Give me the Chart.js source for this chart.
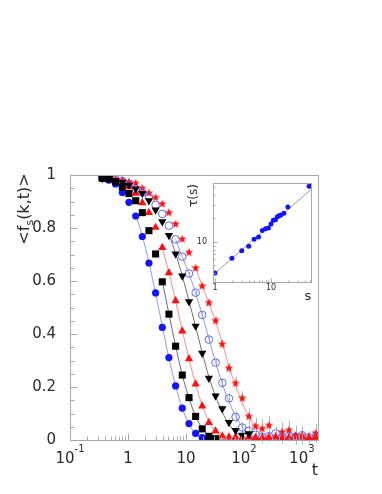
<!DOCTYPE html>
<html>
<head>
<meta charset="utf-8">
<script src="https://cdn.jsdelivr.net/npm/chart.js"></script>
<style>
  body { margin: 0; background: #fff; }
  #wrap { position: relative; width: 382px; height: 494px; }
  #wrap canvas { position: absolute; left: 0; top: 0; }
</style>
</head>
<body>
<div id="wrap">
  <canvas id="mainChart" width="382" height="494"></canvas>
  <canvas id="insetChart" width="382" height="494"></canvas>
</div>
<script>
// time grid (log spaced) shared by all series
const times = [0.36, 0.47, 0.61, 0.8, 1.04, 1.36, 1.77, 2.3, 3.0, 3.91, 5.09, 6.64, 8.65, 11.3, 14.7, 19.1, 24.9,
  32.5, 42.4, 55.2, 71.9, 93.8, 122, 159, 207, 270, 352, 459, 598, 780, 1016, 1324, 1726];

// <f_s(k,t)> for each series (markers)
const fBlueDots = [0.988, 0.981, 0.966, 0.934, 0.897, 0.845, 0.768, 0.668, 0.555, 0.425, 0.311, 0.204, 0.120, 0.062, 0.025, 0.009, 0.004,
  null, null, null, null, null, null, null, null, null, null, null, null, null, null, null, null];
const fBlackSquares = [0.988, 0.985, 0.975, 0.955, 0.930, 0.903, 0.858, 0.790, 0.702, 0.597, 0.475, 0.354, 0.245, 0.160, 0.089, 0.042, 0.014, 0.005,
  null, null, null, null, null, null, null, null, null, null, null, null, null, null, null];
const fRedUp = [0.987, 0.985, 0.975, 0.966, 0.955, 0.931, 0.895, 0.858, 0.802, 0.726, 0.631, 0.525, 0.411, 0.306, 0.211, 0.128, 0.066,
  0.034, 0.015, 0.011, 0.011, 0.010, 0.012, 0.009, 0.008, 0.010, 0.012, 0.009, 0.010, 0.012, 0.011, 0.009, 0.010];
const fBlackDown = [0.988, 0.986, 0.980, 0.972, 0.962, 0.948, 0.931, 0.903, 0.868, 0.824, 0.772, 0.702, 0.619, 0.522, 0.430, 0.328, 0.233,
  0.166, 0.118, 0.066, 0.036, 0.018, 0.024, null, null, null, null, null, null, null, null, null, null];
const fBlueRings = [0.988, 0.987, 0.983, 0.977, 0.968, 0.946, 0.935, 0.918, 0.887, 0.853, 0.809, 0.757, 0.692, 0.628, 0.556, 0.472, 0.379,
  0.292, 0.216, 0.157, 0.087, 0.047, 0.035, 0.020, 0.012, 0.014, 0.025, 0.010, 0.015, 0.012, 0.018, 0.010, 0.012];
const fRedStars = [0.988, 0.987, 0.985, 0.981, 0.974, 0.969, 0.950, 0.932, 0.915, 0.891, 0.858, 0.815, 0.758, 0.708, 0.649, 0.581, 0.518,
  0.450, 0.362, 0.271, 0.214, 0.158, 0.089, 0.052, 0.043, 0.055, null, 0.030, 0.037, 0.018, 0.017, null, 0.026];

// error bars (half length)
const errBlackDown = [0, 0, 0, 0, 0, 0, 0, 0, 0, 0, 0, 0, 0, 0, 0.006, 0.008, 0.010,
  0.012, 0.014, 0.015, 0.016, 0.016, 0.018, null, null, null, null, null, null, null, null, null, null];
const errBlueRings = [0, 0, 0, 0, 0, 0, 0, 0, 0, 0, 0, 0, 0, 0.006, 0.008, 0.010, 0.012,
  0.015, 0.017, 0.018, 0.020, 0.020, 0.022, 0.022, 0.022, 0.022, 0.024, 0.022, 0.022, 0.022, 0.022, 0.022, 0.022];
const errRedStars = [0, 0, 0, 0, 0, 0, 0, 0, 0, 0, 0, 0, 0, 0, 0, 0.008, 0.010,
  0.013, 0.017, 0.020, 0.024, 0.027, 0.030, 0.032, 0.035, 0.036, null, 0.036, 0.037, 0.036, 0.035, null, 0.036];

// fitted curves
const fitBlueDots = [null, null, null, null, null, 0.85, 0.77, 0.67, 0.553, 0.43, 0.31, 0.205, 0.12, 0.06, 0.025, 0.008, 0.002,
  0, 0, 0, 0, 0, 0, 0, 0, 0, 0, 0, 0, 0, 0, 0, 0];
const fitBlackSquares = [null, null, null, null, null, null, null, null, null, 0.60, 0.476, 0.355, 0.246, 0.158, 0.09, 0.045, 0.018,
  0.006, 0.002, 0, 0, 0, 0, 0, 0, 0, 0, 0, 0, 0, 0, 0, 0];
const fitRedUp = [null, null, null, null, null, null, null, null, null, 0.725, 0.632, 0.524, 0.413, 0.306, 0.211, 0.13, 0.07,
  0.033, 0.013, 0.004, 0, 0, 0, 0, 0, 0, 0, 0, 0, 0, 0, 0, 0];
const fitBlackDown = [null, null, null, null, null, null, null, null, null, null, 0.775, 0.703, 0.62, 0.525, 0.428, 0.33, 0.238,
  0.165, 0.105, 0.06, 0.03, 0.012, 0.004, 0, 0, 0, 0, 0, 0, 0, 0, 0, 0];
const fitBlueRings = [null, null, null, null, null, null, null, null, null, null, null, 0.757, 0.692, 0.627, 0.555, 0.472, 0.382,
  0.293, 0.213, 0.145, 0.09, 0.05, 0.025, 0.01, 0.003, 0, 0, 0, 0, 0, 0, 0, 0];
const fitRedStars = [null, null, null, null, null, null, null, null, null, null, null, null, null, null, 0.65, 0.582, 0.517,
  0.447, 0.365, 0.278, 0.205, 0.14, 0.088, 0.05, 0.025, 0.01, 0.003, 0, 0, 0, 0, 0, 0];

// axis labels of the main plot
const xTickValues = [0.1, 1, 10, 100, 1000];
const xTickBases = ['10', '1', '10', '10', '10'];
const xTickPowers = ['-1', '', '', '2', '3'];

// inset: tau(s)
const insetS = [1, 2, 3, 4, 5, 6, 7, 8, 9, 10, 11, 12, 13, 14, 15, 17, 20, 48];
const insetTau = [4.0, 6.2, 7.7, 8.8, 10.8, 11.6, 14.0, 14.8, 15.1, 17.0, 19.0, 19.3, 21.1, 21.7, 22.2, 23.3, 28.1, 51.8];
const insetLineS = [0.92, 51.8];
const insetLineTau = [3.78, 47.1];
const insetXTickValues = [1, 10];
const insetYTickValues = [10];

const FONT = '"DejaVu Sans", sans-serif';
const frameColor = '#a8a8a8';
const textColor = '#2a2a2a';

function pairs(xs, ys, errs) {
  const out = [];
  xs.forEach((x, i) => {
    if (ys[i] === null || ys[i] === undefined) return;
    out.push({ x: x, y: ys[i], e: errs ? errs[i] : 0 });
  });
  return out;
}

function makeStar(color, r) {
  const c = document.createElement('canvas');
  const s = Math.ceil(r * 2) + 2;
  c.width = s; c.height = s;
  const g = c.getContext('2d');
  g.fillStyle = color;
  g.beginPath();
  for (let i = 0; i < 10; i++) {
    const rad = i % 2 === 0 ? r : r * 0.42;
    const a = -Math.PI / 2 + i * Math.PI / 5;
    g.lineTo(s / 2 + rad * Math.cos(a), s / 2 + rad * Math.sin(a));
  }
  g.closePath();
  g.fill();
  return c;
}

function logTicks(min, max) {
  const major = [], minor = [];
  for (let e = Math.floor(Math.log10(min)); e <= Math.ceil(Math.log10(max)); e++) {
    for (let m = 1; m <= 9; m++) {
      const v = m * Math.pow(10, e);
      if (v < min * 0.999 || v > max * 1.001) continue;
      (m === 1 ? major : minor).push(v);
    }
  }
  return { major, minor };
}

// frame + inward tick marks on left and bottom
function drawFrame(chart, xt, yt, majorLen, minorLen) {
  const { ctx, chartArea: a, scales } = chart;
  ctx.save();
  ctx.strokeStyle = frameColor;
  ctx.lineWidth = 1;
  const L = Math.round(a.left) + 0.5, T = Math.round(a.top) + 0.5;
  const R = Math.round(a.right) + 0.5, B = Math.round(a.bottom) + 0.5;
  ctx.strokeRect(L, T, R - L, B - T);
  ctx.beginPath();
  const xTick = (v, len) => {
    const x = Math.round(scales.x.getPixelForValue(v)) + 0.5;
    ctx.moveTo(x, B); ctx.lineTo(x, B - len);
  };
  const yTick = (v, len) => {
    const y = Math.round(scales.y.getPixelForValue(v)) + 0.5;
    ctx.moveTo(L, y); ctx.lineTo(L + len, y);
  };
  xt.major.forEach(v => xTick(v, majorLen));
  xt.minor.forEach(v => xTick(v, minorLen));
  yt.major.forEach(v => yTick(v, majorLen));
  yt.minor.forEach(v => yTick(v, minorLen));
  ctx.stroke();
  ctx.restore();
}

const errorBars = {
  id: 'errorBars',
  beforeDatasetsDraw(chart) {
    const { ctx, scales } = chart;
    ctx.save();
    ctx.strokeStyle = '#b4b4b4';
    ctx.lineWidth = 1;
    chart.data.datasets.forEach((ds, i) => {
      if (!ds.withErrors) return;
      const meta = chart.getDatasetMeta(i);
      ds.data.forEach((p, j) => {
        if (!p.e) return;
        const el = meta.data[j];
        const x = Math.round(el.x) + 0.5;
        ctx.beginPath();
        ctx.moveTo(x, scales.y.getPixelForValue(p.y - p.e));
        ctx.lineTo(x, scales.y.getPixelForValue(p.y + p.e));
        ctx.stroke();
      });
    });
    ctx.restore();
  }
};

const mainDecor = {
  id: 'mainDecor',
  afterDraw(chart) {
    const { ctx, scales } = chart;
    const yMajor = [], yMinor = [];
    for (let i = 0; i <= 20; i++) (i % 4 === 0 ? yMajor : yMinor).push(i * 0.05);
    drawFrame(chart, logTicks(0.1, 1900), { major: yMajor, minor: yMinor }, 7, 4);

    ctx.save();
    ctx.fillStyle = textColor;
    ctx.textAlign = 'left';
    ctx.textBaseline = 'alphabetic';
    const baseFont = '15px ' + FONT, supFont = '10px ' + FONT;
    xTickValues.forEach((v, i) => {
      const base = xTickBases[i], pow = xTickPowers[i];
      ctx.font = baseFont;
      const wb = ctx.measureText(base).width;
      ctx.font = supFont;
      const ws = pow ? ctx.measureText(pow).width : 0;
      const x0 = scales.x.getPixelForValue(v) - (wb + ws) / 2;
      ctx.font = baseFont;
      ctx.fillText(base, x0, 463);
      if (pow) { ctx.font = supFont; ctx.fillText(pow, x0 + wb, 451.5); }
    });

    // x axis title
    ctx.font = '16px ' + FONT;
    ctx.textAlign = 'center';
    ctx.fillText('t', 315, 475);

    // y axis title <f_s(k,t)>
    ctx.translate(29, 209);
    ctx.rotate(-Math.PI / 2);
    const parts = [['<f', '16px ' + FONT, 0], ['s', '11px ' + FONT, 4], ['(k,t)>', '16px ' + FONT, 0]];
    let total = 0;
    parts.forEach(p => { ctx.font = p[1]; total += ctx.measureText(p[0]).width; });
    let x = -total / 2;
    ctx.textAlign = 'left';
    parts.forEach(p => {
      ctx.font = p[1];
      ctx.fillText(p[0], x, p[2]);
      x += ctx.measureText(p[0]).width;
    });
    ctx.restore();
  }
};

const insetDecor = {
  id: 'insetDecor',
  beforeDraw(chart) {
    const { ctx, chartArea: a } = chart;
    ctx.save();
    ctx.fillStyle = '#fff';
    ctx.fillRect(a.left, a.top, a.right - a.left, a.bottom - a.top);
    ctx.restore();
  },
  afterDraw(chart) {
    const { ctx, scales } = chart;
    drawFrame(chart, logTicks(0.92, 51.8), logTicks(3.07, 57), 4, 2);
    ctx.save();
    ctx.fillStyle = textColor;
    ctx.font = '8px ' + FONT;
    ctx.textBaseline = 'middle';
    ctx.textAlign = 'center';
    insetXTickValues.forEach(v => ctx.fillText(String(v), scales.x.getPixelForValue(v), 288));
    ctx.textAlign = 'right';
    insetYTickValues.forEach(v => ctx.fillText(String(v), 207, scales.y.getPixelForValue(v)));
    ctx.textBaseline = 'alphabetic';
    ctx.textAlign = 'center';
    ctx.font = '13px ' + FONT;
    ctx.fillText('s', 308, 300);
    ctx.translate(197, 195.5);
    ctx.rotate(-Math.PI / 2);
    ctx.font = '12px ' + FONT;
    ctx.fillText('\u03c4(s)', 0, 0);
    ctx.restore();
  }
};

const blue = '#1414ff', ringBlue = '#5868ff', red = '#ff1010';
const starImg = makeStar(red, 4.6);

function fitLine(ys, color) {
  return {
    data: pairs(times, ys), showLine: true, borderColor: color, borderWidth: 1,
    pointRadius: 0, cubicInterpolationMode: 'monotone', spanGaps: false
  };
}

new Chart(document.getElementById('mainChart'), {
  type: 'scatter',
  data: {
    datasets: [
      { data: pairs(times, fBlackSquares), pointStyle: 'rect', pointRadius: 5, pointBackgroundColor: '#000', pointBorderWidth: 0 },
      { data: pairs(times, fBlueDots), pointStyle: 'circle', pointRadius: 3.6, pointBackgroundColor: blue, pointBorderWidth: 0 },
      { data: pairs(times, fBlackDown, errBlackDown), withErrors: true, pointStyle: 'triangle', pointRotation: 180, pointRadius: 4.8, pointBackgroundColor: '#000', pointBorderWidth: 0 },
      { data: pairs(times, fRedUp), pointStyle: 'triangle', pointRadius: 4.8, pointBackgroundColor: red, pointBorderWidth: 0 },
      { data: pairs(times, fBlueRings, errBlueRings), withErrors: true, pointStyle: 'circle', pointRadius: 3.8, pointBackgroundColor: 'rgba(0,0,0,0)', pointBorderColor: ringBlue, pointBorderWidth: 1 },
      { data: pairs(times, fRedStars, errRedStars), withErrors: true, pointStyle: starImg, pointRadius: 4.6 },
      fitLine(fitBlueDots, '#8d98ff'),
      fitLine(fitBlackSquares, '#6e6e6e'),
      fitLine(fitRedUp, '#ff8a8a'),
      fitLine(fitBlackDown, '#6e6e6e'),
      fitLine(fitBlueRings, '#8d98ff'),
      fitLine(fitRedStars, '#ff8a8a')
    ]
  },
  options: {
    responsive: false,
    animation: false,
    events: [],
    layout: { padding: { top: 175, right: 64, left: 0, bottom: 54 } },
    plugins: { legend: { display: false }, tooltip: { enabled: false } },
    scales: {
      x: { type: 'logarithmic', min: 0.1, max: 1900, display: false },
      y: {
        min: 0, max: 1,
        grid: { display: false, drawTicks: false },
        border: { display: false },
        ticks: {
          stepSize: 0.2, padding: 14, color: textColor, font: { family: FONT, size: 15 },
          callback: v => String(Number(v.toFixed(1)))
        },
        afterFit: s => { s.width = 70; }
      }
    }
  },
  plugins: [errorBars, mainDecor]
});

new Chart(document.getElementById('insetChart'), {
  type: 'scatter',
  data: {
    datasets: [
      { data: pairs(insetS, insetTau), pointRadius: 2.5, pointBackgroundColor: blue, pointBorderWidth: 0 },
      { data: pairs(insetLineS, insetLineTau), showLine: true, borderColor: '#9a9a9a', borderWidth: 1, pointRadius: 0 }
    ]
  },
  options: {
    responsive: false,
    animation: false,
    events: [],
    layout: { padding: { top: 183, right: 71, left: 213, bottom: 212 } },
    plugins: { legend: { display: false }, tooltip: { enabled: false } },
    scales: {
      x: { type: 'logarithmic', min: 0.92, max: 51.8, display: false },
      y: { type: 'logarithmic', min: 3.07, max: 57, display: false }
    }
  },
  plugins: [insetDecor]
});
</script>
</body>
</html>
